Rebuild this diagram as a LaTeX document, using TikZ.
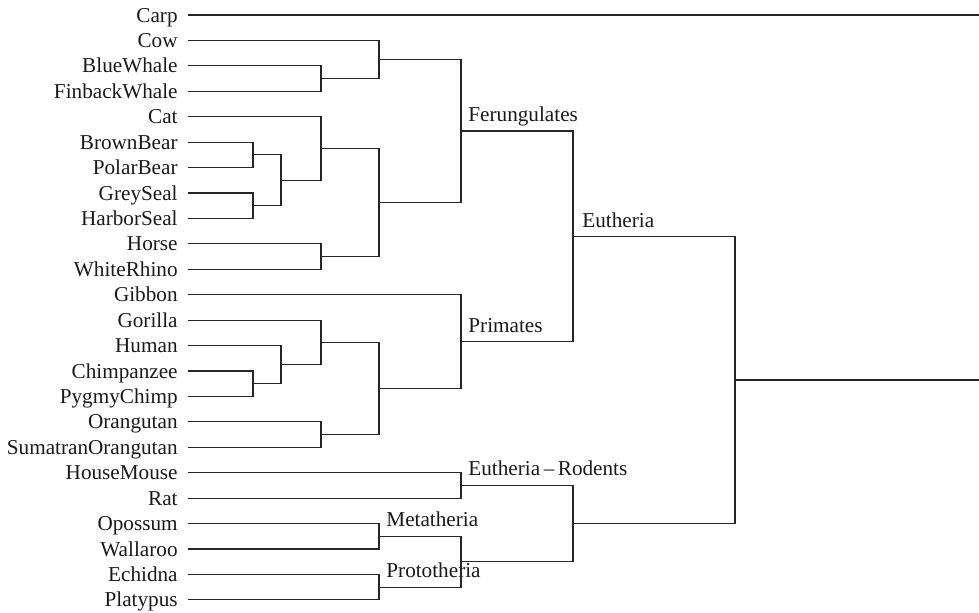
\documentclass[tikz,border=0pt]{standalone}
\usepackage{fontspec}
\setmainfont{Liberation Serif}
\usepackage{tikz}

\begin{document}
\begin{tikzpicture}[
  x=0.5pt, y=-0.5pt,
  every node/.style={font=\fontsize{10.6}{12}\selectfont, text=black!90},
  leaf/.style={anchor=east, inner xsep=5pt, inner ysep=0pt,
    text height=7pt, text depth=0pt},
  clade/.style={anchor=base west, inner sep=0pt, xshift=3.5pt, yshift=4.75pt},
  br/.style={draw=black!85, line width=0.55pt}
]
\useasboundingbox (0,0) rectangle (979,612);

\node[leaf] (carp) at (188,15) {Carp};
\node[leaf] (cow) at (188,40.4) {Cow};
\node[leaf] (bluewhale) at (188,65.9) {BlueWhale};
\node[leaf] (finback) at (188,91.3) {FinbackWhale};
\node[leaf] (cat) at (188,116.7) {Cat};
\node[leaf] (brownbear) at (188,142.1) {BrownBear};
\node[leaf] (polarbear) at (188,167.6) {PolarBear};
\node[leaf] (greyseal) at (188,193.0) {GreySeal};
\node[leaf] (harborseal) at (188,218.4) {HarborSeal};
\node[leaf] (horse) at (188,243.9) {Horse};
\node[leaf] (rhino) at (188,269.3) {WhiteRhino};
\node[leaf] (gibbon) at (188,294.7) {Gibbon};
\node[leaf] (gorilla) at (188,320.1) {Gorilla};
\node[leaf] (human) at (188,345.6) {Human};
\node[leaf] (chimp) at (188,371.0) {Chimpanzee};
\node[leaf] (pygmy) at (188,396.4) {PygmyChimp};
\node[leaf] (orang) at (188,421.9) {Orangutan};
\node[leaf] (sumatran) at (188,447.3) {SumatranOrangutan};
\node[leaf] (mouse) at (188,472.7) {HouseMouse};
\node[leaf] (rat) at (188,498.1) {Rat};
\node[leaf] (opossum) at (188,523.6) {Opossum};
\node[leaf] (wallaroo) at (188,549.0) {Wallaroo};
\node[leaf] (echidna) at (188,574.4) {Echidna};
\node[leaf] (platypus) at (188,599.9) {Platypus};

\coordinate (whales) at (321,78.6);
\coordinate (cowwh) at (379,59.5);
\coordinate (bears) at (253,154.85);
\coordinate (seals) at (253,205.7);
\coordinate (pinn) at (281,180.3);
\coordinate (carniv) at (321,148.5);
\coordinate (perisso) at (321,256.6);
\coordinate (laura) at (379,202.55);
\coordinate (fer) at (461,131.0);
\coordinate (chimps) at (253,383.7);
\coordinate (homo) at (281,364.65);
\coordinate (hominin) at (321,342.4);
\coordinate (pongo) at (321,434.6);
\coordinate (apes) at (379,388.5);
\coordinate (prim) at (461,341.6);
\coordinate (euth) at (573,236.3);
\coordinate (rodents) at (461,485.4);
\coordinate (meta) at (379,536.3);
\coordinate (proto) at (379,587.15);
\coordinate (marsup) at (461,561.7);
\coordinate (euthrod) at (573,523.6);
\coordinate (root) at (735,379.95);
\coordinate (carpend) at (979,15);
\coordinate (rootend) at (979,379.95);

\node[clade] (ferlab) at (fer) {Ferungulates};
\node[clade] (primlab) at (prim) {Primates};
\node[clade, xshift=1pt, yshift=-0.5pt] (euthlab) at (euth) {Eutheria};
\node[clade] (rodlab) at (rodents) {Eutheria\,--\,Rodents};
\node[clade] (metalab) at (meta) {Metatheria};
\node[clade] (protolab) at (proto) {Prototheria};

\draw[br] (carp) -- (carpend);
\draw[br] (bluewhale) -| (whales) |- (finback);
\draw[br] (whales) -| (cowwh) |- (cow);
\draw[br] (brownbear) -| (bears) |- (polarbear);
\draw[br] (greyseal) -| (seals) |- (harborseal);
\draw[br] (bears) -| (pinn) |- (seals);
\draw[br] (pinn) -| (carniv) |- (cat);
\draw[br] (horse) -| (perisso) |- (rhino);
\draw[br] (carniv) -| (laura) |- (perisso);
\draw[br] (cowwh) -| (fer) |- (laura);
\draw[br] (chimp) -| (chimps) |- (pygmy);
\draw[br] (chimps) -| (homo) |- (human);
\draw[br] (homo) -| (hominin) |- (gorilla);
\draw[br] (orang) -| (pongo) |- (sumatran);
\draw[br] (hominin) -| (apes) |- (pongo);
\draw[br] (apes) -| (prim) |- (gibbon);
\draw[br] (fer) -| (euth) |- (prim);
\draw[br] (mouse) -| (rodents) |- (rat);
\draw[br] (opossum) -| (meta) |- (wallaroo);
\draw[br] (echidna) -| (proto) |- (platypus);
\draw[br] (meta) -| (marsup) |- (proto);
\draw[br] (rodents) -| (euthrod) |- (marsup);
\draw[br] (euth) -| (root) |- (euthrod);
\draw[br] (root) -- (rootend);
\end{tikzpicture}
\end{document}
